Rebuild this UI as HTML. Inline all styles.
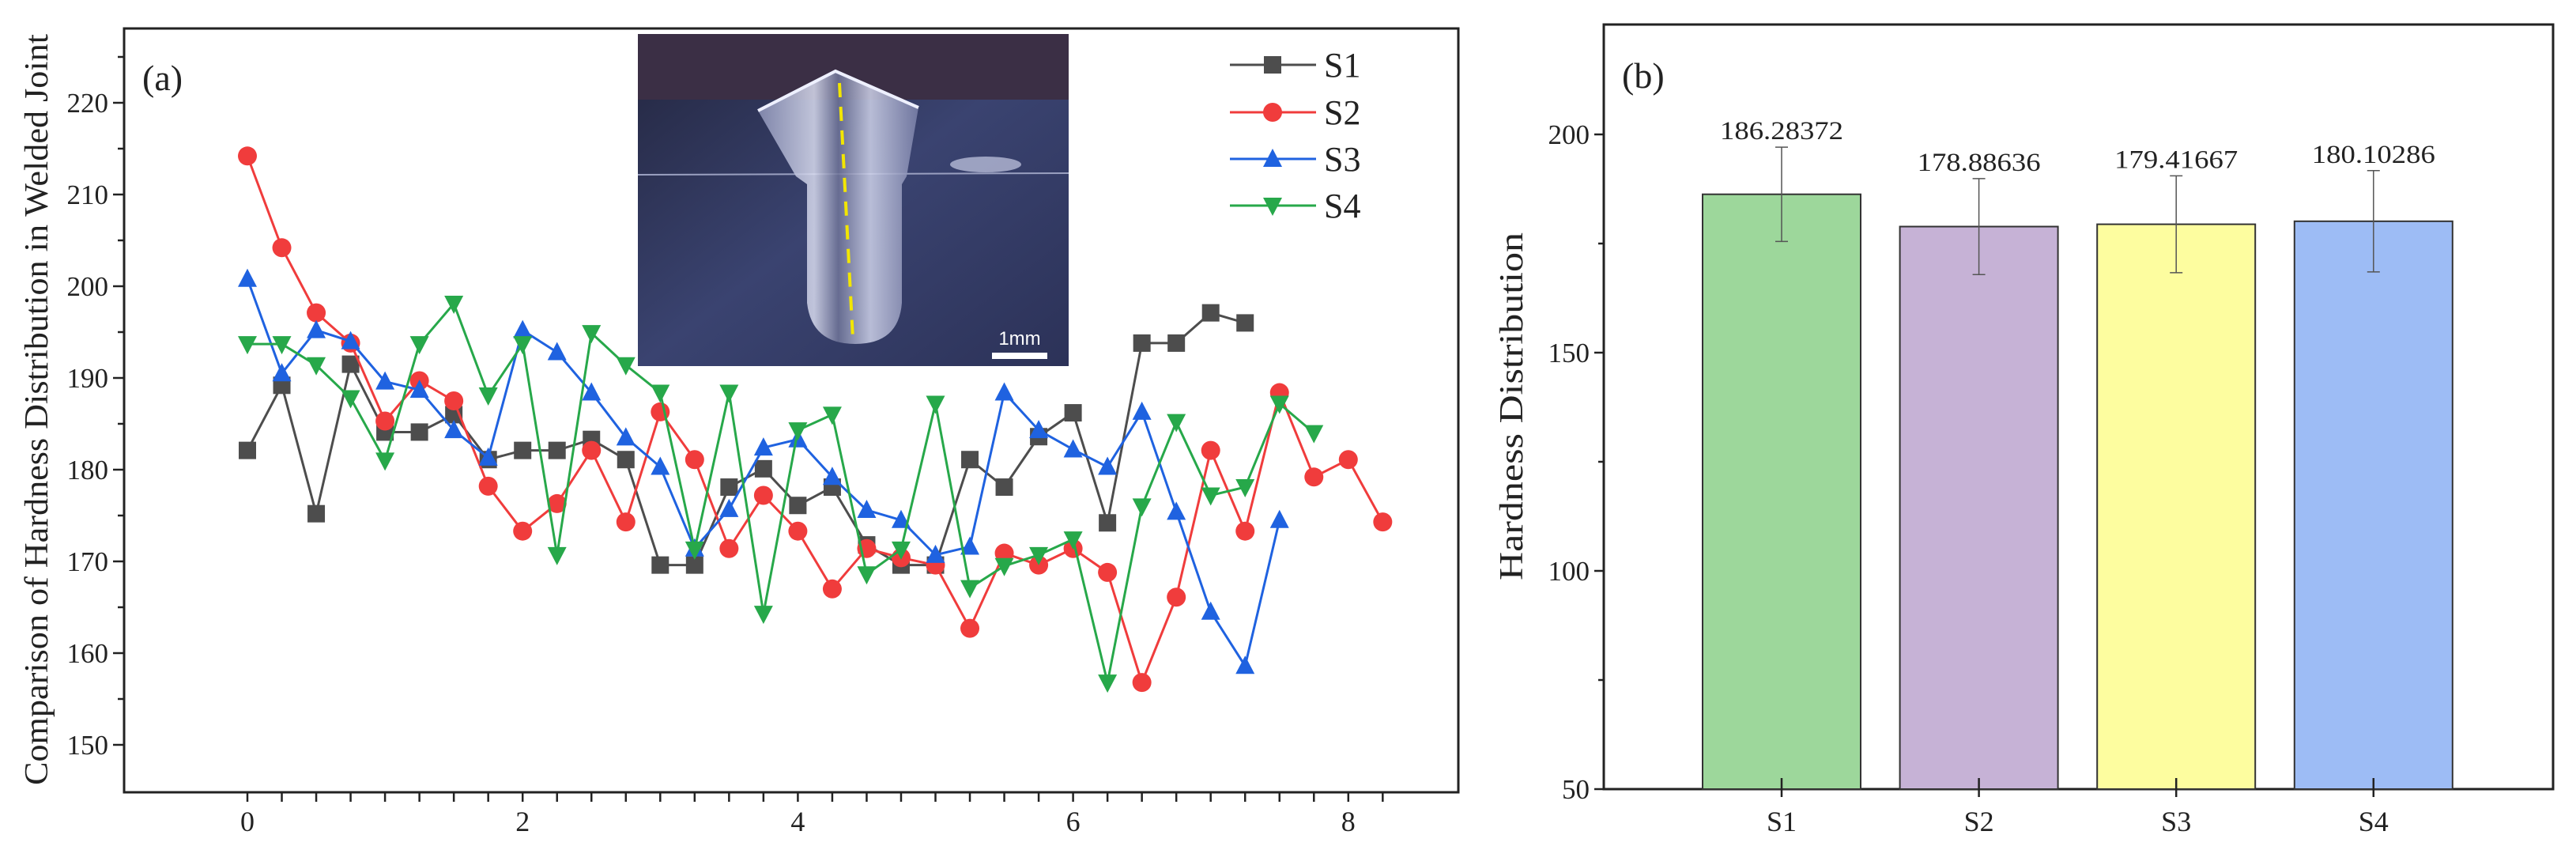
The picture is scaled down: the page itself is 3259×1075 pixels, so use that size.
<!DOCTYPE html>
<html><head><meta charset="utf-8">
<style>
html,body{margin:0;padding:0;background:#fff;}
svg{display:block;}
text{font-family:"Liberation Serif",serif;fill:#222;}
</style></head>
<body>
<svg id="chart" width="3259" height="1075" viewBox="0 0 3259 1075" xmlns="http://www.w3.org/2000/svg">
<defs>
<linearGradient id="plate" x1="0" y1="0" x2="1" y2="1">
<stop offset="0" stop-color="#23263f"/><stop offset="0.5" stop-color="#3a4370"/><stop offset="1" stop-color="#2c3258"/>
</linearGradient>
<linearGradient id="weld" x1="0" y1="0" x2="1" y2="0">
<stop offset="0" stop-color="#8d93b8"/><stop offset="0.35" stop-color="#d9dcef"/><stop offset="0.5" stop-color="#6f7498"/><stop offset="0.7" stop-color="#cfd3ea"/><stop offset="1" stop-color="#7a80a8"/>
</linearGradient>
</defs>
<g id="panelA"></g>
<g id="inset" transform="translate(807,43)">
<rect width="545" height="420" fill="url(#plate)"/>
<rect width="545" height="83" fill="#3b2f45"/>
<line x1="0" y1="178" x2="545" y2="176" stroke="#9aa0c0" stroke-width="2"/>
<path d="M152,97 L250,47 L355,93 L340,180 L334,190 L334,340 Q330,392 275,392 Q220,392 214,340 L214,190 L200,180 Z" fill="url(#weld)" opacity="0.85"/>
<path d="M152,97 L250,47 L355,93" fill="none" stroke="#eef0ff" stroke-width="4"/>
<ellipse cx="440" cy="165" rx="45" ry="10" fill="#c8cce6" opacity="0.7"/>
<line x1="255" y1="62" x2="272" y2="385" stroke="#f2e600" stroke-width="4" stroke-dasharray="18,12"/>
<rect x="448" y="403" width="70" height="8" fill="#fff"/>
<text x="483" y="393" font-size="24" text-anchor="middle" style="fill:#fff;font-family:'Liberation Sans',sans-serif">1mm</text>
</g>
<g id="legend"></g>
<g id="panelB"></g>
</svg>
<script>
// ---------- Panel (a) data ----------
const xStep = 0.25;
const s1Values = [182.1,189.2,175.2,191.5,184.1,184.1,186,181.1,182.1,182.1,183.3,181.1,169.6,169.6,178.1,180.1,176.1,178.1,171.8,169.6,169.6,181.1,178.1,183.6,186.2,174.2,193.8,193.8,197.1,196];
const s2Values = [214.2,204.2,197.1,193.8,185.3,189.7,187.5,178.2,173.3,176.3,182.1,174.3,186.3,181.1,171.4,177.2,173.3,167,171.4,170.4,169.6,162.7,170.9,169.6,171.4,168.8,156.8,166.1,182.1,173.3,188.4,179.2,181.1,174.3];
const s3Values = [200.8,190.5,195.2,194,189.6,188.7,184.3,181.3,195.2,192.8,188.4,183.5,180.3,171.4,175.7,182.4,183.3,179.2,175.6,174.5,170.7,171.6,188.4,184.3,182.2,180.3,186.3,175.4,164.5,158.6,174.5];
const s4Values = [193.7,193.7,191.4,187.8,181,193.7,198.1,188.1,193.7,170.7,194.9,191.4,188.4,171.3,188.4,164.3,184.3,186,168.6,171.3,187.2,167.1,169.5,170.7,172.4,156.8,176,185.2,177.2,178.1,187.2,184];
const seriesNames = ["S1","S2","S3","S4"];
const yTicksA = [150,160,170,180,190,200,210,220];
const xTicksA = [0,2,4,6,8];
// ---------- Panel (b) data ----------
const barCategories = ["S1","S2","S3","S4"];
const barValues = [186.28372,178.88636,179.41667,180.10286];
const barErrors = [10.8,11,11.1,11.6];
const barLabels = ["186.28372","178.88636","179.41667","180.10286"];
const yTicksB = [50,100,150,200];

const NS="http://www.w3.org/2000/svg";
function mk(parent,tag,attrs){const e=document.createElementNS(NS,tag);for(const k in attrs)e.setAttribute(k,attrs[k]);parent.appendChild(e);return e;}

// ---- Panel A ----
const A=document.getElementById('panelA');
const aL=157,aR=1845,aT=36,aB=1002;
const xA=v=>313+v*174.1;
const yA=v=>130+(220-v)*11.6;
const frameA=mk(A,'rect',{x:aL,y:aT,width:aR-aL,height:aB-aT,fill:'none',stroke:'#222','stroke-width':3});


for(let v=150;v<=225;v+=5){
  const len=(v%10===0)?14:8;
  const t=mk(A,'line',{x1:aL-len,x2:aL,y1:yA(v),y2:yA(v),stroke:'#222','stroke-width':2.5});
  
  
}
yTicksA.forEach(v=>{
  const t=mk(A,'text',{x:aL-20,y:yA(v)+12,'font-size':35,'text-anchor':'end'});
  t.textContent=v;
  
  
});
for(let v=0;v<=8.25001;v+=0.25){
  const t=mk(A,'line',{x1:xA(v),x2:xA(v),y1:aB,y2:aB+12,stroke:'#222','stroke-width':2.5});
  
  
}
xTicksA.forEach(v=>{
  const t=mk(A,'text',{x:xA(v),y:1051,'font-size':36,'text-anchor':'middle'});
  t.textContent=v;
  
  
});
const yt=mk(A,'text',{x:0,y:0,'font-size':42,'text-anchor':'middle',textLength:950,lengthAdjust:'spacingAndGlyphs',transform:'translate(60,518) rotate(-90)'});
yt.textContent='Comparison of Hardness Distribution in Welded Joint';


const la=mk(A,'text',{x:180,y:114,'font-size':46});
la.textContent='(a)';



const colors=['#4d4d4d','#f03c3c','#1f62e0','#27a84a'];
const allSeries=[s1Values,s2Values,s3Values,s4Values];
function marker(g,k,cx,cy,col){
  let m;
  if(k===0)m=mk(g,'rect',{x:cx-11,y:cy-11,width:22,height:22,fill:col});
  else if(k===1)m=mk(g,'circle',{cx:cx,cy:cy,r:12,fill:col});
  else if(k===2)m=mk(g,'polygon',{points:`${cx},${cy-13} ${cx-12},${cy+10} ${cx+12},${cy+10}`,fill:col});
  else m=mk(g,'polygon',{points:`${cx},${cy+13} ${cx-12},${cy-10} ${cx+12},${cy-10}`,fill:col});
  return m;
}
allSeries.forEach((vals,k)=>{
  const g=mk(A,'g',{});
  
  
  const pts=vals.map((v,i)=>xA(i*xStep)+','+yA(v)).join(' ');
  const pl=mk(g,'polyline',{points:pts,fill:'none',stroke:colors[k],'stroke-width':3});
  
  
  vals.forEach((v,i)=>{
    const m=marker(g,k,xA(i*xStep),yA(v),colors[k]);
    
    
  });
});
// legend
const L=document.getElementById('legend');
seriesNames.forEach((n,k)=>{
  const y=[82,142,201,260][k];
  const g=mk(L,'g',{});
  
  
  mk(g,'line',{x1:1556,x2:1665,y1:y,y2:y,stroke:colors[k],'stroke-width':3});
  marker(g,k,1610,y,colors[k]);
  const t=mk(g,'text',{x:1675,y:y+15,'font-size':44});
  t.textContent=n;
});

// ---- Panel B ----
const B=document.getElementById('panelB');
const bL=2029,bR=3230,bT=31,bB=998;
const yB=v=>998-(v-50)*(828/150);
const xB=i=>2254+i*249.6;
const frameB=mk(B,'rect',{x:bL,y:bT,width:bR-bL,height:bB-bT,fill:'none',stroke:'#222','stroke-width':3});


for(let v=50;v<=200;v+=25){
  const len=(v%50===0)?12:7;
  const t=mk(B,'line',{x1:bL-len,x2:bL,y1:yB(v),y2:yB(v),stroke:'#222','stroke-width':2.5});
  
  
}
yTicksB.forEach(v=>{
  const t=mk(B,'text',{x:bL-18,y:yB(v)+12,'font-size':35,'text-anchor':'end'});
  t.textContent=v;
  
  
});
const ytb=mk(B,'text',{x:0,y:0,'font-size':42,'text-anchor':'middle',textLength:440,lengthAdjust:'spacingAndGlyphs',transform:'translate(1926,514) rotate(-90)'});
ytb.textContent='Hardness Distribution';


const lb=mk(B,'text',{x:2052,y:111,'font-size':46});
lb.textContent='(b)';


const barColors=['#9dd79b','#c6b2d6','#fdfd9f','#9dbcf5'];
barCategories.forEach((c,i)=>{
  const cx=xB(i),w=200;
  const r=mk(B,'rect',{x:cx-w/2,y:yB(barValues[i]),width:w,height:yB(50)-yB(barValues[i]),fill:barColors[i],stroke:'#333','stroke-width':2});
  
  
  const top=yB(barValues[i]+barErrors[i]),bot=yB(barValues[i]-barErrors[i]);
  const eb=mk(B,'path',{d:`M${cx},${top}V${bot}M${cx-8},${top}H${cx+8}M${cx-8},${bot}H${cx+8}`,stroke:'#555','stroke-width':1.5,fill:'none'});
  
  
  const vl=mk(B,'text',{x:cx,y:top-10,'font-size':33,'text-anchor':'middle',textLength:156,lengthAdjust:'spacingAndGlyphs'});
  vl.textContent=barLabels[i];
  
  
  const tk=mk(B,'line',{x1:cx,x2:cx,y1:bB-14,y2:bB+10,stroke:'#222','stroke-width':2.5});
  
  
  const xl=mk(B,'text',{x:cx,y:1051,'font-size':36,'text-anchor':'middle'});
  xl.textContent=c;
  
  
});
</script>
</body></html>
